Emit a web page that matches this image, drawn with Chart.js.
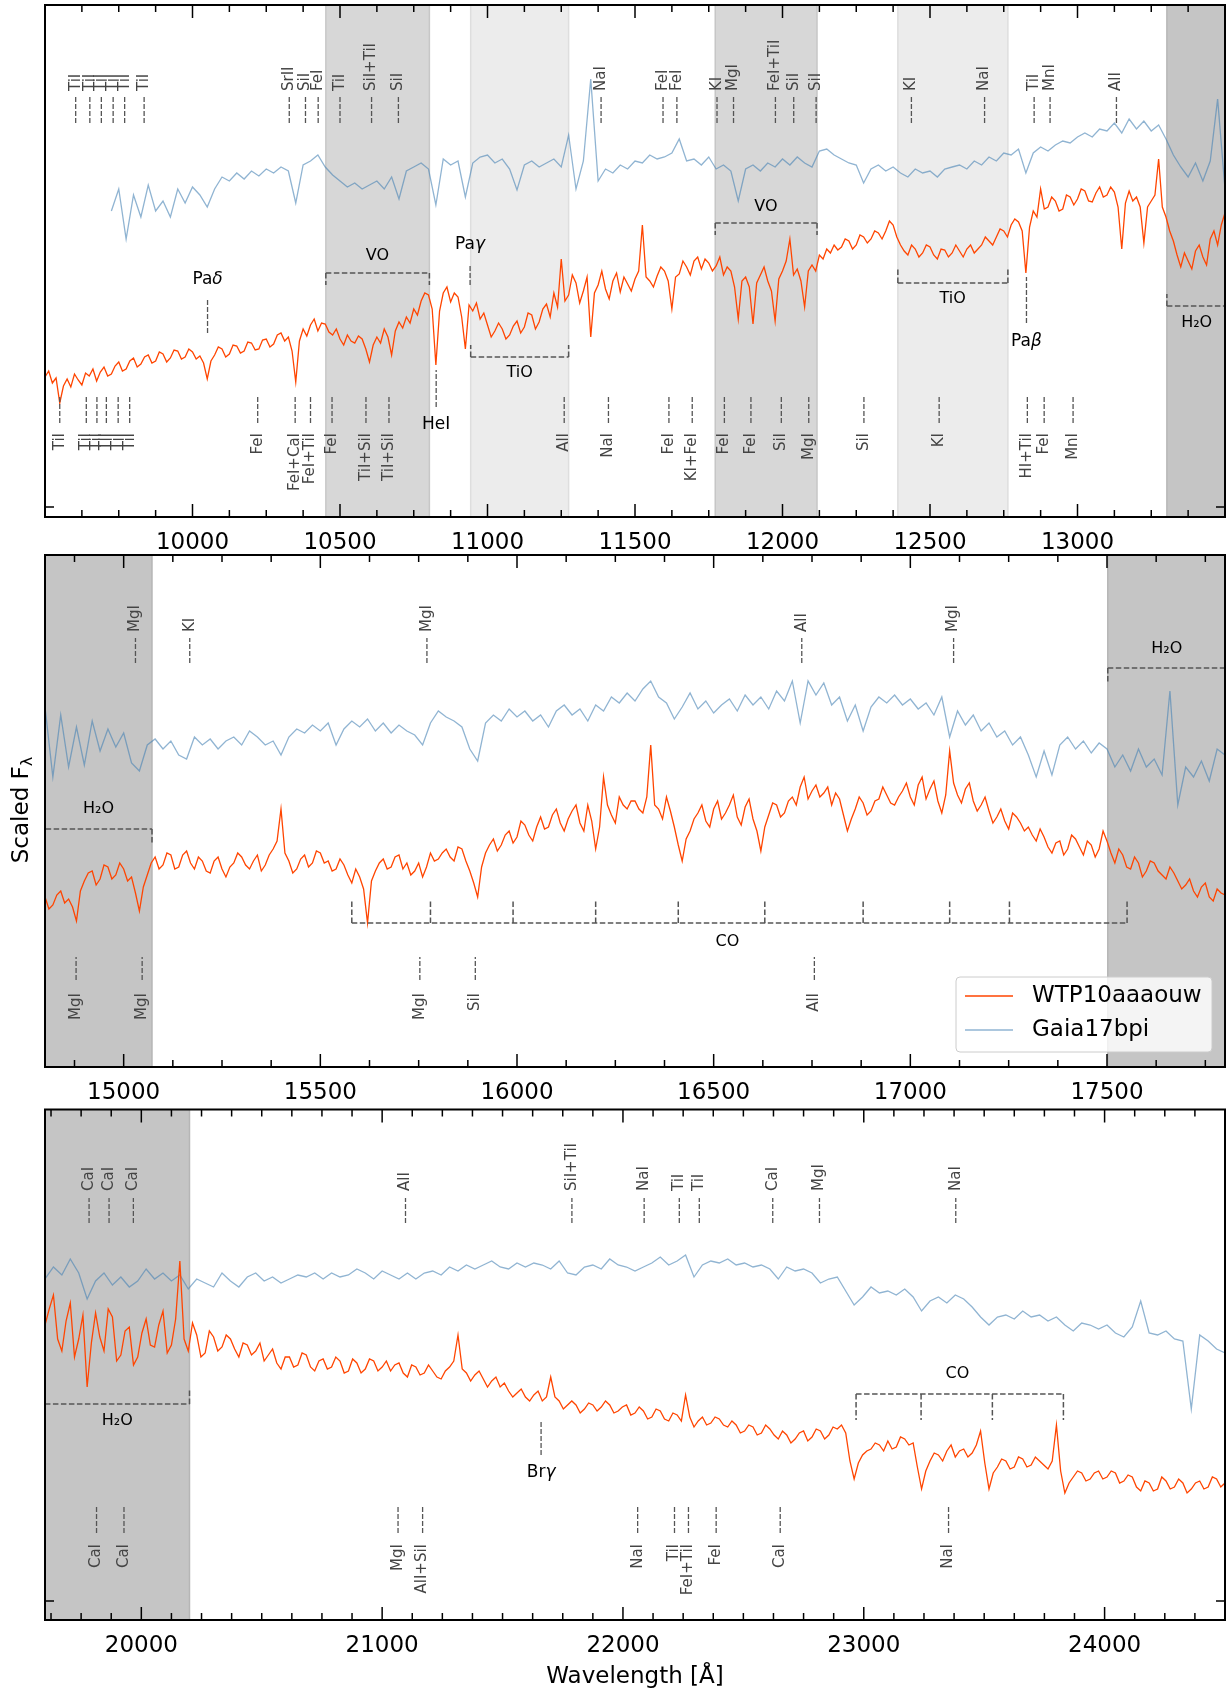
<!DOCTYPE html>
<html>
<head>
<meta charset="utf-8">
<script src="https://cdn.jsdelivr.net/npm/chart.js@4.4.1/dist/chart.umd.min.js"></script>
<style>
  body { margin: 0; background: #fff; }
  #wrap { position: relative; width: 1228px; height: 1693px; background: #fff; }
  canvas { position: absolute; left: 0; }
</style>
</head>
<body>
<div id="wrap">
  <canvas id="panel-j" width="1228" height="550" style="top:0px"></canvas>
  <canvas id="panel-h" width="1228" height="550" style="top:550px"></canvas>
  <canvas id="panel-k" width="1228" height="593" style="top:1100px"></canvas>
</div>
<script>
// ---------- J band (9500 - 13500 A) ----------
// WTP10aaaouw, read every 12.5 A
const wtpWaveJ = [
  9500, 9512.5, 9525, 9537.5, 9550, 9562.5, 9575, 9587.5, 9600, 9612.5, 9625, 9637.5, 9650, 9662.5, 9675, 9687.5, 9700, 9712.5, 9725, 9737.5,
  9750, 9762.5, 9775, 9787.5, 9800, 9812.5, 9825, 9837.5, 9850, 9862.5, 9875, 9887.5, 9900, 9912.5, 9925, 9937.5, 9950, 9962.5, 9975, 9987.5,
  10000, 10012.5, 10025, 10037.5, 10050, 10062.5, 10075, 10087.5, 10100, 10112.5, 10125, 10137.5, 10150, 10162.5, 10175, 10187.5, 10200, 10212.5, 10225, 10237.5,
  10250, 10262.5, 10275, 10287.5, 10300, 10312.5, 10325, 10337.5, 10350, 10362.5, 10375, 10387.5, 10400, 10412.5, 10425, 10437.5, 10450, 10462.5, 10475, 10487.5,
  10500, 10512.5, 10525, 10537.5, 10550, 10562.5, 10575, 10587.5, 10600, 10612.5, 10625, 10637.5, 10650, 10662.5, 10675, 10687.5, 10700, 10712.5, 10725, 10737.5,
  10750, 10762.5, 10775, 10787.5, 10800, 10812.5, 10825, 10837.5, 10850, 10862.5, 10875, 10887.5, 10900, 10912.5, 10925, 10937.5, 10950, 10962.5, 10975, 10987.5,
  11000, 11012.5, 11025, 11037.5, 11050, 11062.5, 11075, 11087.5, 11100, 11112.5, 11125, 11137.5, 11150, 11162.5, 11175, 11187.5, 11200, 11212.5, 11225, 11237.5,
  11250, 11262.5, 11275, 11287.5, 11300, 11312.5, 11325, 11337.5, 11350, 11362.5, 11375, 11387.5, 11400, 11412.5, 11425, 11437.5, 11450, 11462.5, 11475, 11487.5,
  11500, 11512.5, 11525, 11537.5, 11550, 11562.5, 11575, 11587.5, 11600, 11612.5, 11625, 11637.5, 11650, 11662.5, 11675, 11687.5, 11700, 11712.5, 11725, 11737.5,
  11750, 11762.5, 11775, 11787.5, 11800, 11812.5, 11825, 11837.5, 11850, 11862.5, 11875, 11887.5, 11900, 11912.5, 11925, 11937.5, 11950, 11962.5, 11975, 11987.5,
  12000, 12012.5, 12025, 12037.5, 12050, 12062.5, 12075, 12087.5, 12100, 12112.5, 12125, 12137.5, 12150, 12162.5, 12175, 12187.5, 12200, 12212.5, 12225, 12237.5,
  12250, 12262.5, 12275, 12287.5, 12300, 12312.5, 12325, 12337.5, 12350, 12362.5, 12375, 12387.5, 12400, 12412.5, 12425, 12437.5, 12450, 12462.5, 12475, 12487.5,
  12500, 12512.5, 12525, 12537.5, 12550, 12562.5, 12575, 12587.5, 12600, 12612.5, 12625, 12637.5, 12650, 12662.5, 12675, 12687.5, 12700, 12712.5, 12725, 12737.5,
  12750, 12762.5, 12775, 12787.5, 12800, 12812.5, 12825, 12837.5, 12850, 12862.5, 12875, 12887.5, 12900, 12912.5, 12925, 12937.5, 12950, 12962.5, 12975, 12987.5,
  13000, 13012.5, 13025, 13037.5, 13050, 13062.5, 13075, 13087.5, 13100, 13112.5, 13125, 13137.5, 13150, 13162.5, 13175, 13187.5, 13200, 13212.5, 13225, 13237.5,
  13250, 13262.5, 13275, 13287.5, 13300, 13312.5, 13325, 13337.5, 13350, 13362.5, 13375, 13387.5, 13400, 13412.5, 13425, 13437.5, 13450, 13462.5, 13475, 13487.5,
  13500
];
const wtpJ = [
  130, 136, 124, 129, 104, 121, 128, 120, 133, 127, 122, 134, 131, 138, 126, 135, 140, 131, 133, 141,
  145, 136, 138, 146, 149, 140, 143, 150, 152, 144, 146, 155, 153, 145, 149, 157, 156, 148, 150, 158,
  155, 148, 151, 144, 128, 146, 152, 160, 158, 150, 153, 162, 161, 154, 156, 165, 164, 157, 158, 167,
  168, 160, 163, 172, 174, 166, 170, 156, 125, 166, 178, 171, 182, 188, 176, 184, 183, 175, 172, 178,
  168, 162, 172, 166, 164, 171, 168, 158, 145, 162, 170, 164, 178, 170, 152, 176, 185, 179, 190, 184,
  198, 192, 206, 214, 212, 198, 142, 196, 214, 220, 205, 214, 210, 190, 158, 202, 196, 204, 188, 194,
  182, 170, 176, 184, 178, 168, 172, 181, 186, 174, 180, 194, 192, 178, 185, 198, 203, 190, 214, 200,
  248, 206, 212, 232, 224, 204, 216, 230, 170, 214, 222, 236, 218, 208, 226, 234, 215, 230, 223, 216,
  228, 236, 282, 230, 226, 220, 231, 240, 236, 226, 198, 230, 233, 246, 240, 232, 246, 250, 238, 248,
  244, 236, 241, 250, 232, 240, 236, 220, 188, 226, 230, 220, 183, 224, 232, 240, 226, 216, 186, 228,
  236, 246, 268, 232, 238, 226, 200, 236, 242, 236, 252, 248, 258, 254, 262, 257, 260, 268, 266, 258,
  262, 272, 270, 264, 268, 276, 274, 268, 276, 286, 282, 270, 262, 256, 252, 262, 258, 250, 254, 262,
  260, 252, 248, 258, 257, 250, 254, 262, 256, 250, 258, 262, 254, 258, 262, 270, 266, 262, 270, 278,
  276, 270, 282, 288, 285, 276, 234, 280, 296, 290, 318, 298, 300, 310, 306, 296, 298, 312, 310, 302,
  308, 318, 316, 306, 305, 314, 320, 310, 312, 320, 315, 300, 258, 304, 316, 306, 310, 300, 264, 300,
  306, 312, 348, 300, 290, 276, 266, 252, 240, 254, 246, 238, 256, 262, 250, 242, 268, 276, 262, 282,
  294
];
// Gaia17bpi, read every 25 A
const gaiaWaveJ = [
  9500, 9525, 9550, 9575, 9600, 9625, 9650, 9675, 9700, 9725, 9750, 9775, 9800, 9825, 9850, 9875, 9900, 9925, 9950, 9975,
  10000, 10025, 10050, 10075, 10100, 10125, 10150, 10175, 10200, 10225, 10250, 10275, 10300, 10325, 10350, 10375, 10400, 10425, 10450, 10475,
  10500, 10525, 10550, 10575, 10600, 10625, 10650, 10675, 10700, 10725, 10750, 10775, 10800, 10825, 10850, 10875, 10900, 10925, 10950, 10975,
  11000, 11025, 11050, 11075, 11100, 11125, 11150, 11175, 11200, 11225, 11250, 11275, 11300, 11325, 11350, 11375, 11400, 11425, 11450, 11475,
  11500, 11525, 11550, 11575, 11600, 11625, 11650, 11675, 11700, 11725, 11750, 11775, 11800, 11825, 11850, 11875, 11900, 11925, 11950, 11975,
  12000, 12025, 12050, 12075, 12100, 12125, 12150, 12175, 12200, 12225, 12250, 12275, 12300, 12325, 12350, 12375, 12400, 12425, 12450, 12475,
  12500, 12525, 12550, 12575, 12600, 12625, 12650, 12675, 12700, 12725, 12750, 12775, 12800, 12825, 12850, 12875, 12900, 12925, 12950, 12975,
  13000, 13025, 13050, 13075, 13100, 13125, 13150, 13175, 13200, 13225, 13250, 13275, 13300, 13325, 13350, 13375, 13400, 13425, 13450, 13475,
  13500
];
const gaiaJ = [
  null, null, null, null, null, null, null, null, null, 296, 318, 268, 312, 290, 322, 296, 306, 290, 318, 304,
  320, 312, 300, 318, 330, 326, 334, 328, 336, 331, 338, 334, 340, 336, 304, 342, 346, 352, 340, 332,
  326, 320, 324, 318, 322, 326, 318, 330, 308, 336, 340, 344, 338, 302, 348, 342, 346, 310, 344, 350,
  352, 344, 348, 338, 317, 342, 346, 340, 344, 348, 340, 372, 318, 346, 428, 326, 338, 334, 342, 338,
  346, 344, 352, 348, 350, 354, 368, 346, 348, 342, 350, 338, 342, 336, 306, 338, 342, 336, 344, 340,
  348, 342, 350, 344, 340, 356, 358, 352, 348, 344, 342, 324, 338, 342, 336, 340, 334, 330, 338, 334,
  336, 330, 338, 340, 342, 338, 346, 342, 350, 346, 354, 352, 358, 334, 354, 360, 356, 362, 366, 364,
  370, 374, 370, 378, 376, 384, 374, 388, 378, 386, 376, 382, 368, 352, 340, 330, 344, 326, 346, 408,
  318
];
const ticksJ = [10000, 10500, 11000, 11500, 12000, 12500, 13000];
const topWaveJ = [9604, 9652, 9691, 9731, 9770, 9836, 10328, 10383, 10426, 10500, 10607, 10698, 11385, 11595, 11642, 11778, 11834, 11976, 12038, 12114, 12437, 12685, 12853, 12907, 13132];
const topNameJ = ['TiI', 'TiI', 'TiI', 'TiI', 'TiI', 'TiI', 'SrII', 'SiI', 'FeI', 'TiI', 'SiI+TiI', 'SiI', 'NaI', 'FeI', 'FeI', 'KI', 'MgI', 'FeI+TiI', 'SiI', 'SiI', 'KI', 'NaI', 'TiI', 'MnI', 'AlI'];
const botWaveJ = [9550, 9640, 9676, 9708, 9748, 9787, 10221, 10348, 10400, 10473, 10588, 10666, 11260, 11410, 11615, 11694, 11803, 11893, 11996, 12089, 12276, 12531, 12830, 12887, 12985];
const botNameJ = ['TiI', 'TiI', 'TiI', 'TiI', 'TiI', 'TiI', 'FeI', 'FeI+CaI', 'FeI+TiI', 'FeI', 'TiI+SiI', 'TiI+SiI', 'AlI', 'NaI', 'FeI', 'KI+FeI', 'FeI', 'FeI', 'SiI', 'MgI', 'SiI', 'KI', 'HI+TiI', 'FeI', 'MnI'];
const bandsJ = [[10452, 10803, 'VO'], [10943, 11275, 'TiO'], [11772, 12117, 'VO'], [12391, 12764, 'TiO'], [13303, 13500, 'H2O']];

// ---------- H band (14800 - 17800 A) ----------
const wtpWaveH = [
  14800, 14810, 14820, 14830, 14840, 14850, 14860, 14870, 14880, 14890, 14900, 14910, 14920, 14930, 14940, 14950, 14960, 14970, 14980, 14990, 15000, 15010, 15020, 15030, 15040,
  15050, 15060, 15070, 15080, 15090, 15100, 15110, 15120, 15130, 15140, 15150, 15160, 15170, 15180, 15190, 15200, 15210, 15220, 15230, 15240, 15250, 15260, 15270, 15280, 15290,
  15300, 15310, 15320, 15330, 15340, 15350, 15360, 15370, 15380, 15390, 15400, 15410, 15420, 15430, 15440, 15450, 15460, 15470, 15480, 15490, 15500, 15510, 15520, 15530, 15540,
  15550, 15560, 15570, 15580, 15590, 15600, 15610, 15620, 15630, 15640, 15650, 15660, 15670, 15680, 15690, 15700, 15710, 15720, 15730, 15740, 15750, 15760, 15770, 15780, 15790,
  15800, 15810, 15820, 15830, 15840, 15850, 15860, 15870, 15880, 15890, 15900, 15910, 15920, 15930, 15940, 15950, 15960, 15970, 15980, 15990, 16000, 16010, 16020, 16030, 16040,
  16050, 16060, 16070, 16080, 16090, 16100, 16110, 16120, 16130, 16140, 16150, 16160, 16170, 16180, 16190, 16200, 16210, 16220, 16230, 16240, 16250, 16260, 16270, 16280, 16290,
  16300, 16310, 16320, 16330, 16340, 16350, 16360, 16370, 16380, 16390, 16400, 16410, 16420, 16430, 16440, 16450, 16460, 16470, 16480, 16490, 16500, 16510, 16520, 16530, 16540,
  16550, 16560, 16570, 16580, 16590, 16600, 16610, 16620, 16630, 16640, 16650, 16660, 16670, 16680, 16690, 16700, 16710, 16720, 16730, 16740, 16750, 16760, 16770, 16780, 16790,
  16800, 16810, 16820, 16830, 16840, 16850, 16860, 16870, 16880, 16890, 16900, 16910, 16920, 16930, 16940, 16950, 16960, 16970, 16980, 16990, 17000, 17010, 17020, 17030, 17040,
  17050, 17060, 17070, 17080, 17090, 17100, 17110, 17120, 17130, 17140, 17150, 17160, 17170, 17180, 17190, 17200, 17210, 17220, 17230, 17240, 17250, 17260, 17270, 17280, 17290,
  17300, 17310, 17320, 17330, 17340, 17350, 17360, 17370, 17380, 17390, 17400, 17410, 17420, 17430, 17440, 17450, 17460, 17470, 17480, 17490, 17500, 17510, 17520, 17530, 17540,
  17550, 17560, 17570, 17580, 17590, 17600, 17610, 17620, 17630, 17640, 17650, 17660, 17670, 17680, 17690, 17700, 17710, 17720, 17730, 17740, 17750, 17760, 17770, 17780, 17790,
  17800
];
const wtpH = [
  170, 158, 162, 172, 176, 164, 168, 160, 146, 176, 186, 194, 196, 182, 188, 202, 200, 188, 192, 204, 198, 186, 190, 174, 156,
  180, 192, 204, 210, 198, 202, 214, 212, 198, 200, 212, 216, 204, 198, 210, 206, 196, 194, 206, 210, 198, 190, 200, 204, 214,
  210, 202, 198, 206, 212, 196, 202, 212, 218, 226, 258, 214, 206, 194, 198, 208, 212, 200, 204, 216, 214, 204, 206, 196, 198,
  208, 202, 192, 184, 198, 190, 178, 144, 186, 196, 204, 208, 198, 200, 210, 212, 198, 204, 192, 196, 204, 190, 200, 214, 206,
  208, 214, 218, 210, 206, 220, 218, 206, 196, 184, 170, 200, 214, 222, 228, 216, 222, 232, 236, 224, 230, 246, 242, 232, 226,
  240, 250, 238, 240, 252, 258, 244, 236, 248, 256, 262, 244, 236, 262, 246, 218, 240, 290, 262, 252, 244, 270, 262, 258, 266,
  266, 258, 254, 270, 322, 262, 258, 248, 270, 256, 240, 222, 206, 228, 236, 248, 254, 262, 246, 240, 258, 266, 248, 254, 262,
  272, 250, 242, 260, 268, 248, 236, 216, 240, 252, 264, 262, 250, 254, 266, 270, 262, 280, 290, 268, 276, 282, 270, 274, 280,
  262, 274, 268, 252, 236, 248, 258, 270, 264, 252, 256, 266, 268, 280, 272, 264, 262, 270, 276, 284, 270, 262, 282, 290, 268,
  278, 286, 266, 254, 272, 316, 284, 272, 264, 278, 284, 266, 256, 262, 270, 256, 244, 250, 258, 246, 238, 254, 250, 244, 236,
  240, 232, 226, 238, 230, 220, 214, 224, 226, 212, 218, 232, 228, 220, 212, 226, 222, 210, 218, 236, 226, 214, 204, 218, 212,
  200, 198, 210, 204, 190, 196, 206, 204, 196, 192, 188, 200, 194, 186, 178, 182, 188, 176, 170, 180, 184, 170, 166, 178, 174,
  172
];
const gaiaWaveH = [
  14800, 14820, 14840, 14860, 14880, 14900, 14920, 14940, 14960, 14980, 15000, 15020, 15040, 15060, 15080, 15100, 15120, 15140, 15160, 15180, 15200, 15220, 15240, 15260, 15280,
  15300, 15320, 15340, 15360, 15380, 15400, 15420, 15440, 15460, 15480, 15500, 15520, 15540, 15560, 15580, 15600, 15620, 15640, 15660, 15680, 15700, 15720, 15740, 15760, 15780,
  15800, 15820, 15840, 15860, 15880, 15900, 15920, 15940, 15960, 15980, 16000, 16020, 16040, 16060, 16080, 16100, 16120, 16140, 16160, 16180, 16200, 16220, 16240, 16260, 16280,
  16300, 16320, 16340, 16360, 16380, 16400, 16420, 16440, 16460, 16480, 16500, 16520, 16540, 16560, 16580, 16600, 16620, 16640, 16660, 16680, 16700, 16720, 16740, 16760, 16780,
  16800, 16820, 16840, 16860, 16880, 16900, 16920, 16940, 16960, 16980, 17000, 17020, 17040, 17060, 17080, 17100, 17120, 17140, 17160, 17180, 17200, 17220, 17240, 17260, 17280,
  17300, 17320, 17340, 17360, 17380, 17400, 17420, 17440, 17460, 17480, 17500, 17520, 17540, 17560, 17580, 17600, 17620, 17640, 17660, 17680, 17700, 17720, 17740, 17760, 17780,
  17800
];
const gaiaH = [
  360, 290, 352, 300, 340, 302, 346, 316, 338, 320, 334, 304, 296, 322, 328, 318, 326, 312, 308, 330, 322, 328, 318, 326, 330,
  322, 336, 330, 322, 326, 312, 330, 338, 334, 342, 336, 344, 322, 338, 346, 340, 348, 336, 344, 334, 342, 336, 332, 322, 344,
  356, 350, 346, 340, 318, 306, 344, 352, 346, 358, 350, 356, 346, 352, 340, 356, 362, 352, 358, 346, 362, 356, 370, 364, 374,
  366, 378, 386, 370, 364, 348, 360, 374, 358, 366, 354, 362, 368, 356, 372, 362, 370, 358, 376, 366, 386, 344, 386, 372, 384,
  362, 370, 346, 362, 336, 360, 370, 364, 372, 362, 368, 358, 364, 352, 370, 330, 356, 342, 352, 336, 344, 330, 336, 322, 330,
  312, 290, 316, 292, 322, 330, 318, 326, 314, 324, 318, 300, 312, 296, 318, 300, 308, 292, 376, 262, 300, 290, 306, 286, 318,
  312
];
const ticksH = [15000, 15500, 16000, 16500, 17000, 17500];
const topWaveH = [15030, 15168, 15771, 16724, 17110];
const topNameH = ['MgI', 'KI', 'MgI', 'AlI', 'MgI'];
const botWaveH = [14879, 15047, 15753, 15894, 16756];
const botNameH = ['MgI', 'MgI', 'MgI', 'SiI', 'AlI'];
const bandsH = [[14800, 15072, 'H2O'], [17502, 17800, 'H2O']];
const coHeadsH = [15580, 15780, 15990, 16200, 16410, 16630, 16880, 17100, 17252, 17551];

// ---------- K band (19600 - 24500 A) ----------
const wtpWaveK = [
  19600, 19617.5, 19635, 19652.5, 19670, 19687.5, 19705, 19722.5, 19740, 19757.5, 19775, 19792.5, 19810, 19827.5, 19845, 19862.5, 19880, 19897.5, 19915, 19932.5,
  19950, 19967.5, 19985, 20002.5, 20020, 20037.5, 20055, 20072.5, 20090, 20107.5, 20125, 20142.5, 20160, 20177.5, 20195, 20212.5, 20230, 20247.5, 20265, 20282.5,
  20300, 20317.5, 20335, 20352.5, 20370, 20387.5, 20405, 20422.5, 20440, 20457.5, 20475, 20492.5, 20510, 20527.5, 20545, 20562.5, 20580, 20597.5, 20615, 20632.5,
  20650, 20667.5, 20685, 20702.5, 20720, 20737.5, 20755, 20772.5, 20790, 20807.5, 20825, 20842.5, 20860, 20877.5, 20895, 20912.5, 20930, 20947.5, 20965, 20982.5,
  21000, 21017.5, 21035, 21052.5, 21070, 21087.5, 21105, 21122.5, 21140, 21157.5, 21175, 21192.5, 21210, 21227.5, 21245, 21262.5, 21280, 21297.5, 21315, 21332.5,
  21350, 21367.5, 21385, 21402.5, 21420, 21437.5, 21455, 21472.5, 21490, 21507.5, 21525, 21542.5, 21560, 21577.5, 21595, 21612.5, 21630, 21647.5, 21665, 21682.5,
  21700, 21717.5, 21735, 21752.5, 21770, 21787.5, 21805, 21822.5, 21840, 21857.5, 21875, 21892.5, 21910, 21927.5, 21945, 21962.5, 21980, 21997.5, 22015, 22032.5,
  22050, 22067.5, 22085, 22102.5, 22120, 22137.5, 22155, 22172.5, 22190, 22207.5, 22225, 22242.5, 22260, 22277.5, 22295, 22312.5, 22330, 22347.5, 22365, 22382.5,
  22400, 22417.5, 22435, 22452.5, 22470, 22487.5, 22505, 22522.5, 22540, 22557.5, 22575, 22592.5, 22610, 22627.5, 22645, 22662.5, 22680, 22697.5, 22715, 22732.5,
  22750, 22767.5, 22785, 22802.5, 22820, 22837.5, 22855, 22872.5, 22890, 22907.5, 22925, 22942.5, 22960, 22977.5, 22995, 23012.5, 23030, 23047.5, 23065, 23082.5,
  23100, 23117.5, 23135, 23152.5, 23170, 23187.5, 23205, 23222.5, 23240, 23257.5, 23275, 23292.5, 23310, 23327.5, 23345, 23362.5, 23380, 23397.5, 23415, 23432.5,
  23450, 23467.5, 23485, 23502.5, 23520, 23537.5, 23555, 23572.5, 23590, 23607.5, 23625, 23642.5, 23660, 23677.5, 23695, 23712.5, 23730, 23747.5, 23765, 23782.5,
  23800, 23817.5, 23835, 23852.5, 23870, 23887.5, 23905, 23922.5, 23940, 23957.5, 23975, 23992.5, 24010, 24027.5, 24045, 24062.5, 24080, 24097.5, 24115, 24132.5,
  24150, 24167.5, 24185, 24202.5, 24220, 24237.5, 24255, 24272.5, 24290, 24307.5, 24325, 24342.5, 24360, 24377.5, 24395, 24412.5, 24430, 24447.5, 24465, 24482.5,
  24500
];
const wtpK = [
  276, 292, 306, 262, 250, 280, 298, 244, 262, 286, 214, 258, 288, 264, 250, 292, 284, 240, 246, 270,
  274, 236, 244, 268, 282, 256, 254, 276, 290, 248, 256, 282, 340, 262, 250, 278, 266, 244, 248, 270,
  264, 250, 254, 266, 262, 252, 244, 258, 256, 246, 250, 258, 240, 246, 252, 238, 232, 244, 244, 234,
  236, 248, 246, 234, 230, 240, 242, 232, 234, 244, 240, 228, 230, 242, 238, 228, 232, 242, 240, 230,
  234, 240, 230, 236, 238, 228, 224, 236, 234, 226, 228, 236, 230, 224, 222, 230, 234, 240, 266, 232,
  228, 220, 226, 230, 222, 214, 220, 224, 214, 218, 210, 204, 208, 212, 204, 200, 206, 210, 200, 204,
  224, 204, 200, 192, 196, 200, 196, 188, 192, 198, 196, 190, 194, 200, 196, 188, 190, 194, 196, 186,
  188, 194, 190, 182, 184, 192, 190, 182, 180, 188, 186, 180, 206, 184, 174, 180, 184, 176, 178, 184,
  182, 176, 174, 180, 176, 168, 170, 176, 174, 166, 168, 176, 172, 166, 162, 170, 166, 158, 162, 168,
  170, 160, 164, 172, 170, 162, 166, 174, 172, 176, 168, 140, 122, 138, 146, 150, 152, 158, 156, 150,
  160, 152, 154, 164, 162, 156, 158, 134, 112, 130, 140, 148, 146, 140, 150, 156, 144, 150, 152, 144,
  148, 156, 170, 138, 112, 128, 134, 142, 140, 132, 134, 144, 142, 134, 136, 144, 140, 136, 132, 140,
  176, 130, 108, 118, 124, 130, 128, 120, 122, 128, 130, 122, 124, 130, 128, 118, 120, 126, 124, 114,
  110, 120, 118, 110, 112, 124, 120, 112, 114, 122, 118, 108, 112, 118, 120, 112, 114, 124, 122, 114,
  118
];
const gaiaWaveK = [
  19600, 19635, 19670, 19705, 19740, 19775, 19810, 19845, 19880, 19915, 19950, 19985, 20020, 20055, 20090, 20125, 20160, 20195, 20230, 20265,
  20300, 20335, 20370, 20405, 20440, 20475, 20510, 20545, 20580, 20615, 20650, 20685, 20720, 20755, 20790, 20825, 20860, 20895, 20930, 20965,
  21000, 21035, 21070, 21105, 21140, 21175, 21210, 21245, 21280, 21315, 21350, 21385, 21420, 21455, 21490, 21525, 21560, 21595, 21630, 21665,
  21700, 21735, 21770, 21805, 21840, 21875, 21910, 21945, 21980, 22015, 22050, 22085, 22120, 22155, 22190, 22225, 22260, 22295, 22330, 22365,
  22400, 22435, 22470, 22505, 22540, 22575, 22610, 22645, 22680, 22715, 22750, 22785, 22820, 22855, 22890, 22925, 22960, 22995, 23030, 23065,
  23100, 23135, 23170, 23205, 23240, 23275, 23310, 23345, 23380, 23415, 23450, 23485, 23520, 23555, 23590, 23625, 23660, 23695, 23730, 23765,
  23800, 23835, 23870, 23905, 23940, 23975, 24010, 24045, 24080, 24115, 24150, 24185, 24220, 24255, 24290, 24325, 24360, 24395, 24430, 24465,
  24500
];
const gaiaK = [
  322, 334, 326, 342, 328, 302, 320, 328, 316, 324, 314, 320, 332, 322, 328, 320, 326, 312, 322, 318,
  314, 328, 320, 314, 324, 328, 320, 324, 318, 322, 326, 324, 328, 322, 328, 324, 326, 332, 328, 322,
  330, 326, 322, 328, 322, 328, 330, 326, 334, 330, 336, 332, 336, 340, 334, 332, 338, 334, 338, 336,
  332, 340, 328, 326, 334, 336, 332, 342, 336, 334, 330, 334, 338, 344, 336, 340, 346, 324, 336, 340,
  338, 342, 336, 338, 334, 336, 332, 322, 334, 330, 332, 328, 318, 322, 324, 310, 296, 304, 314, 308,
  310, 306, 312, 304, 290, 300, 304, 298, 306, 302, 294, 284, 276, 284, 286, 282, 290, 284, 286, 280,
  284, 276, 270, 278, 276, 272, 276, 268, 264, 274, 300, 268, 266, 270, 262, 260, 192, 266, 260, 252,
  248
];
const ticksK = [20000, 21000, 22000, 23000, 24000];
const topWaveK = [19783, 19866, 19967, 21097, 21788, 22088, 22234, 22317, 22622, 22816, 23382];
const topNameK = ['CaI', 'CaI', 'CaI', 'AlI', 'SiI+TiI', 'NaI', 'TiI', 'TiI', 'CaI', 'MgI', 'NaI'];
const botWaveK = [19814, 19928, 21066, 21168, 22061, 22214, 22272, 22387, 22653, 23352];
const botNameK = ['CaI', 'CaI', 'MgI', 'AlI+SiI', 'NaI', 'TiI', 'FeI+TiI', 'FeI', 'CaI', 'NaI'];
const bandsK = [[19600, 20200, 'H2O']];
const coHeadsK = [22968, 23238, 23534, 23829];

const seriesNames = ['WTP10aaaouw', 'Gaia17bpi'];

// --- styles ---
const ORANGE = '#ff4500';
const BLUE = 'rgba(70,130,180,0.6)';
const FONT = '"DejaVu Sans", sans-serif';
const DASH = [5, 2];
const molFill = { VO: '#d7d7d7', TiO: '#ececec', H2O: '#c5c5c5' };
const molEdge = { VO: '#c7c7c7', TiO: '#dedede', H2O: '#b6b6b6' };
Chart.defaults.font.family = FONT;

function toXY(xs, ys) {
  return xs.map((x, i) => ({ x: x, y: ys[i] }));
}

function drawParts(ctx, parts, cx, cy, size) {
  // plain text followed by an italic greek letter, centred on cx
  const fonts = parts.map((t, i) => (i === 1 ? 'italic ' : '') + size + 'px ' + FONT);
  let total = 0;
  const widths = parts.map((t, i) => { ctx.font = fonts[i]; const w = ctx.measureText(t).width; total += w; return w; });
  let x = cx - total / 2;
  ctx.textAlign = 'left';
  ctx.textBaseline = 'middle';
  parts.forEach((t, i) => { ctx.font = fonts[i]; ctx.fillText(t, x, cy); x += widths[i]; });
}

function vline(ctx, x, y0, y1) {
  ctx.beginPath(); ctx.moveTo(x, y0); ctx.lineTo(x, y1); ctx.stroke();
}

function makeDecor(p) {
  return {
    id: 'decor',
    beforeDatasetsDraw(chart) {
      const { ctx, chartArea: a } = chart;
      const xs = chart.scales.x;
      ctx.save();
      p.bands.forEach(([from, to, mol]) => {
        const x0 = Math.max(a.left, xs.getPixelForValue(from));
        const x1 = Math.min(a.right, xs.getPixelForValue(to));
        ctx.fillStyle = molFill[mol];
        ctx.fillRect(x0, a.top, x1 - x0, a.bottom - a.top);
        ctx.strokeStyle = molEdge[mol];
        ctx.lineWidth = 1.5;
        [x0, x1].forEach(e => { if (e > a.left + 2 && e < a.right - 2) vline(ctx, e, a.top, a.bottom); });
      });
      ctx.restore();
    },
    afterDatasetsDraw(chart) {
      const { ctx, chartArea: a } = chart;
      const xs = chart.scales.x, ys = chart.scales.y;
      const Y = v => ys.getPixelForValue(v);
      ctx.save();
      ctx.beginPath(); ctx.rect(a.left, a.top, a.right - a.left, a.bottom - a.top); ctx.clip();

      // line identifications
      ctx.strokeStyle = '#555'; ctx.lineWidth = 1.3; ctx.setLineDash(DASH);
      ctx.fillStyle = '#444'; ctx.font = '15px ' + FONT; ctx.textBaseline = 'middle';
      const ids = (waves, names, dash, textV, top) => {
        waves.forEach((w, i) => {
          const px = xs.getPixelForValue(w);
          vline(ctx, px, Y(dash[0]), Y(dash[1]));
          ctx.save();
          ctx.translate(px, Y(textV));
          ctx.rotate(-Math.PI / 2);
          ctx.textAlign = top ? 'left' : 'right';
          ctx.fillText(names[i], 0, 0);
          ctx.restore();
        });
      };
      ids(p.topWave, p.topName, p.topDash, p.topText, true);
      ids(p.botWave, p.botName, p.botDash, p.botText, false);

      // molecular band brackets
      ctx.fillStyle = '#000';
      p.brackets.forEach(b => {
        ctx.setLineDash([5.5, 2.5]); ctx.strokeStyle = '#555'; ctx.lineWidth = 1.5;
        ctx.beginPath(); ctx.moveTo(xs.getPixelForValue(b.from), Y(b.y)); ctx.lineTo(xs.getPixelForValue(b.to), Y(b.y)); ctx.stroke();
        b.ticks.forEach(t => vline(ctx, xs.getPixelForValue(t), Y(b.y), Y(b.tip)));
        drawParts(ctx, [b.label], xs.getPixelForValue(b.lx), Y(b.ly), 16);
      });

      // single atomic lines (Pa, Br, HeI)
      p.markers.forEach(m => {
        ctx.setLineDash(DASH); ctx.strokeStyle = '#555'; ctx.lineWidth = 1.3;
        vline(ctx, xs.getPixelForValue(m.at), Y(m.y0), Y(m.y1));
        drawParts(ctx, m.parts, xs.getPixelForValue(m.at), Y(m.ly), 17);
      });
      ctx.restore();

      // frame and inward ticks
      ctx.save();
      ctx.setLineDash([]);
      ctx.strokeStyle = '#000';
      ctx.lineWidth = 1.5;
      const first = Math.ceil(xs.min / 125) * 125;
      for (let v = first; v <= xs.max; v += 125) {
        if (v === xs.min || v === xs.max) continue;
        const px = xs.getPixelForValue(v);
        const len = v % p.major === 0 ? 13 : 7;
        vline(ctx, px, a.top, a.top + len);
        vline(ctx, px, a.bottom, a.bottom - len);
      }
      p.yTicks.forEach(v => {
        const py = Y(v);
        ctx.beginPath(); ctx.moveTo(a.left, py); ctx.lineTo(a.left + 9, py);
        ctx.moveTo(a.right, py); ctx.lineTo(a.right - 9, py); ctx.stroke();
      });
      ctx.lineWidth = 2;
      ctx.strokeRect(a.left, a.top, a.right - a.left, a.bottom - a.top);

      if (p.legend) {
        const bx = a.right - 13 - 256, by = a.bottom - 15 - 75;
        ctx.fillStyle = 'rgba(255,255,255,0.8)';
        ctx.strokeStyle = '#cccccc';
        ctx.lineWidth = 1;
        ctx.beginPath(); ctx.roundRect(bx, by, 256, 75, 4); ctx.fill(); ctx.stroke();
        chart.data.datasets.forEach((d, i) => {
          const ly = by + 19 + i * 34;
          ctx.strokeStyle = d.borderColor; ctx.lineWidth = 1.5;
          ctx.beginPath(); ctx.moveTo(bx + 9, ly); ctx.lineTo(bx + 57, ly); ctx.stroke();
          ctx.fillStyle = '#000'; ctx.font = '23px ' + FONT;
          ctx.textAlign = 'left'; ctx.textBaseline = 'middle';
          ctx.fillText(d.label, bx + 76, ly);
        });
      }
      if (p.yTitle) {
        ctx.translate(22, 260);
        ctx.rotate(-Math.PI / 2);
        ctx.fillStyle = '#000';
        ctx.font = '23px ' + FONT;
        const w1 = ctx.measureText('Scaled F').width;
        ctx.font = '16px ' + FONT;
        const w2 = ctx.measureText('λ').width;
        ctx.textAlign = 'left'; ctx.textBaseline = 'middle';
        ctx.font = '23px ' + FONT;
        ctx.fillText('Scaled F', -(w1 + w2) / 2, 0);
        ctx.font = '16px ' + FONT;
        ctx.fillText('λ', -(w1 + w2) / 2 + w1, 6);
      }
      ctx.restore();
    }
  };
}

function makePanel(id, p) {
  return new Chart(document.getElementById(id), {
    type: 'line',
    data: {
      datasets: [
        { label: seriesNames[0], data: toXY(p.wtpWave, p.wtp), borderColor: ORANGE, borderWidth: 1.3, order: 0 },
        { label: seriesNames[1], data: toXY(p.gaiaWave, p.gaia), borderColor: BLUE, borderWidth: 1.3, order: 1 }
      ]
    },
    options: {
      responsive: false,
      animation: false,
      devicePixelRatio: 1,
      layout: { padding: { top: p.padTop, left: 45, right: 3, bottom: 0 } },
      elements: { point: { radius: 0 }, line: { tension: 0 } },
      plugins: { legend: { display: false }, tooltip: { enabled: false } },
      scales: {
        x: {
          type: 'linear',
          min: p.wtpWave[0],
          max: p.wtpWave[p.wtpWave.length - 1],
          afterBuildTicks: s => { s.ticks = p.ticks.map(v => ({ value: v })); },
          afterFit: s => { s.height = p.axisH; },
          grid: { display: false },
          border: { display: false },
          ticks: { font: { size: 23 }, color: '#000', padding: 4, maxRotation: 0, autoSkip: false, callback: v => String(v) },
          title: p.xTitle
            ? { display: true, text: 'Wavelength [Å]', font: { size: 23 }, color: '#000', padding: { top: 0, bottom: 2 } }
            : { display: false }
        },
        y: { display: false, min: p.yMin, max: p.yMax }
      }
    },
    plugins: [makeDecor(p)]
  });
}

makePanel('panel-j', {
  wtpWave: wtpWaveJ, wtp: wtpJ, gaiaWave: gaiaWaveJ, gaia: gaiaJ, ticks: ticksJ, bands: bandsJ,
  topWave: topWaveJ, topName: topNameJ, botWave: botWaveJ, botName: botNameJ,
  yMin: -10, yMax: 502, padTop: 5, axisH: 33, major: 500, yTicks: [0],
  topDash: [384, 410], topText: 416, botDash: [84, 110], botText: 74,
  brackets: [
    { from: 10452, to: 10803, y: 234, tip: 222, ticks: [10452, 10803], label: 'VO', lx: 10627, ly: 251 },
    { from: 11772, to: 12117, y: 284, tip: 272, ticks: [11772, 12117], label: 'VO', lx: 11944, ly: 300 },
    { from: 10943, to: 11275, y: 150, tip: 162, ticks: [10943, 11275], label: 'TiO', lx: 11109, ly: 134 },
    { from: 12391, to: 12764, y: 224, tip: 238, ticks: [12391, 12764], label: 'TiO', lx: 12577, ly: 208 },
    { from: 13303, to: 13600, y: 201, tip: 213, ticks: [13303], label: 'H₂O', lx: 13404, ly: 184 }
  ],
  markers: [
    { at: 10051, y0: 174, y1: 209, parts: ['Pa', 'δ'], ly: 227 },
    { at: 10941, y0: 222, y1: 242, parts: ['Pa', 'γ'], ly: 262 },
    { at: 10826, y0: 100, y1: 137, parts: ['HeI'], ly: 82 },
    { at: 12827, y0: 184, y1: 230, parts: ['Pa', 'β'], ly: 165 }
  ]
});

makePanel('panel-h', {
  wtpWave: wtpWaveH, wtp: wtpH, gaiaWave: gaiaWaveH, gaia: gaiaH, ticks: ticksH, bands: bandsH,
  topWave: topWaveH, topName: topNameH, botWave: botWaveH, botName: botNameH,
  yMin: 0, yMax: 512, padTop: 5, axisH: 33, major: 500, yTicks: [],
  topDash: [404, 429], topText: 435, botDash: [87, 110], botText: 74,
  brackets: [
    { from: 14700, to: 15072, y: 238, tip: 224, ticks: [15072], label: 'H₂O', lx: 14936, ly: 258 },
    { from: 17502, to: 17900, y: 399, tip: 385, ticks: [17502], label: 'H₂O', lx: 17652, ly: 418 },
    { from: coHeadsH[0], to: coHeadsH[coHeadsH.length - 1], y: 144, tip: 168, ticks: coHeadsH, label: 'CO', lx: 16535, ly: 125 }
  ],
  markers: [],
  legend: true, yTitle: true
});

makePanel('panel-k', {
  wtpWave: wtpWaveK, wtp: wtpK, gaiaWave: gaiaWaveK, gaia: gaiaK, ticks: ticksK, bands: bandsK,
  topWave: topWaveK, topName: topNameK, botWave: botWaveK, botName: botNameK,
  yMin: -19, yMax: 491.5, padTop: 9.5, axisH: 73, major: 1000, yTicks: [0],
  topDash: [378, 403], topText: 410, botDash: [68, 94], botText: 57,
  brackets: [
    { from: 19500, to: 20200, y: 197, tip: 212, ticks: [20200], label: 'H₂O', lx: 19900, ly: 180 },
    { from: coHeadsK[0], to: coHeadsK[coHeadsK.length - 1], y: 207, tip: 181, ticks: coHeadsK, label: 'CO', lx: 23389, ly: 227 }
  ],
  markers: [
    { at: 21660, y0: 146, y1: 181, parts: ['Br', 'γ'], ly: 128 }
  ],
  xTitle: true
});
</script>
</body>
</html>
